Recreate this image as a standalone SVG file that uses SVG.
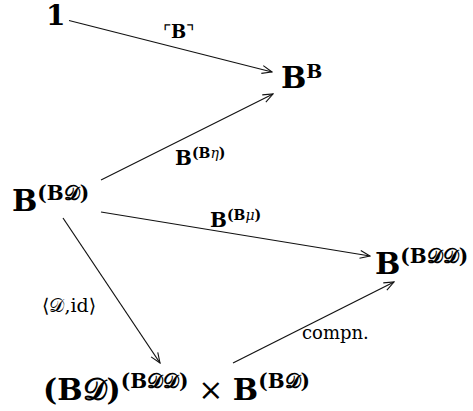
<svg xmlns="http://www.w3.org/2000/svg" width="473" height="411" viewBox="0 0 473 411">
<defs>
<style>
.m{font-family:"DejaVu Serif","Liberation Serif",serif;font-weight:bold;fill:#000}
.l{font-family:"DejaVu Serif","Liberation Serif",serif;fill:#000}
.s{font-family:"DejaVu Serif","DejaVu Sans","Noto Sans",serif;font-style:italic;font-weight:normal}
.e{stroke:#111;stroke-width:1.2;fill:none;marker-end:url(#a)}
</style>
<marker id="a" viewBox="0 0 12 10" refX="11" refY="5" markerWidth="12" markerHeight="10" markerUnits="userSpaceOnUse" orient="auto">
<path d="M1,1 L11,5 L1,9" fill="none" stroke="#111" stroke-width="1.1"/>
</marker>
</defs>
<rect width="473" height="411" fill="#fff"/>
<g id="edges">
<line class="e" x1="69" y1="20.5" x2="272" y2="72"/>
<line class="e" x1="101" y1="180" x2="273" y2="94"/>
<line class="e" x1="101" y1="212" x2="370" y2="256"/>
<line class="e" x1="63" y1="218" x2="160" y2="363"/>
<line class="e" x1="233" y1="363" x2="394" y2="282"/>
</g>
<g id="labels">
<text class="l" x="163" y="38" font-size="18"><tspan font-weight="normal">⌜</tspan><tspan font-weight="bold">B</tspan><tspan font-weight="normal">⌝</tspan></text>
<text class="m" x="175" y="165" font-size="20">B<tspan font-size="14" dy="-7">(B<tspan class="s">η</tspan>)</tspan></text>
<text class="m" x="210" y="227" font-size="20">B<tspan font-size="14" dy="-7">(B<tspan class="s">μ</tspan>)</tspan></text>
<text class="l" x="42" y="312" font-size="19">⟨𝒟,id⟩</text>
<text class="l" x="302" y="339" font-size="18">compn.</text>
</g>
<g id="n1"><text class="m" x="46" y="25" font-size="28">1</text></g>
<g id="nBB"><text class="m" x="281" y="88" font-size="30">B<tspan font-size="19" dy="-10">B</tspan></text></g>
<g id="nBBD"><text class="m" x="12" y="211" font-size="30">B<tspan font-size="20" dy="-11">(B𝒟)</tspan></text></g>
<g id="nBBDD"><text class="m" x="375" y="274" font-size="30">B<tspan font-size="20" dy="-11">(B𝒟𝒟)</tspan></text></g>
<g id="nProd"><text class="m" x="43" y="400" font-size="30">(B𝒟)<tspan font-size="20" dy="-12">(B𝒟𝒟)</tspan><tspan dy="12" font-weight="normal"> × </tspan>B<tspan font-size="20" dy="-12">(B𝒟)</tspan></text></g>
</svg>
